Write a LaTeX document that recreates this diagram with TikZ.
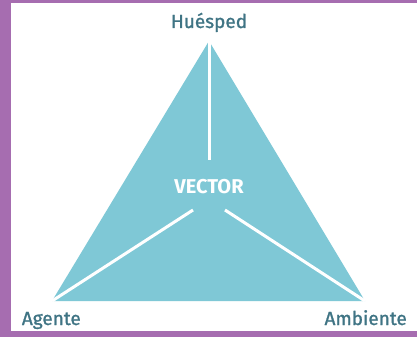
\documentclass[tikz,border=0pt]{standalone}
\usepackage{fontspec}
\setmainfont{Fira Sans}
\newfontfamily\labfont[BoldFont={Fira Sans}, BoldFeatures={FakeBold=1.2}]{Fira Sans}
\definecolor{framecol}{HTML}{A66DB0}
\definecolor{tricol}{HTML}{7FC8D6}
\definecolor{labcol}{HTML}{3F7484}
\begin{document}
\begin{tikzpicture}[x=1pt,y=-1pt,
  lbl/.style={text=labcol,font=\labfont\bfseries\fontsize{19}{21}\selectfont,inner sep=0pt},
  spoke/.style={white,line width=3pt}]
\useasboundingbox (0,0) rectangle (417,337);
\fill[white] (0,0) rectangle (417,337);
\fill[framecol] (0,0) rectangle (417,3);
\fill[framecol] (0,0) rectangle (11,337);
\fill[framecol] (0,331) rectangle (417,337);
\coordinate (A) at (209,41);
\coordinate (B) at (52,301);
\coordinate (C) at (365,301);
\fill[tricol] (A) -- (B) -- (C) -- cycle;
\coordinate (vt) at (209,160);
\coordinate (vl) at (193,210);
\coordinate (vr) at (225,210);
\draw[spoke] (A) -- (vt);
\draw[spoke] (vl) -- (B);
\draw[spoke] (vr) -- (C);
\node[lbl, anchor=base] (hues) at (209,28) {Huésped};
\node[lbl, anchor=base west] (ag) at (21.7,325) {Agente};
\node[lbl, anchor=base east] (amb) at (407,325) {Ambiente};
\node[text=white, font=\fontsize{20}{22}\selectfont\bfseries, inner sep=0pt, anchor=base] (vec) at (209,193) {VECTOR};
\end{tikzpicture}
\end{document}
